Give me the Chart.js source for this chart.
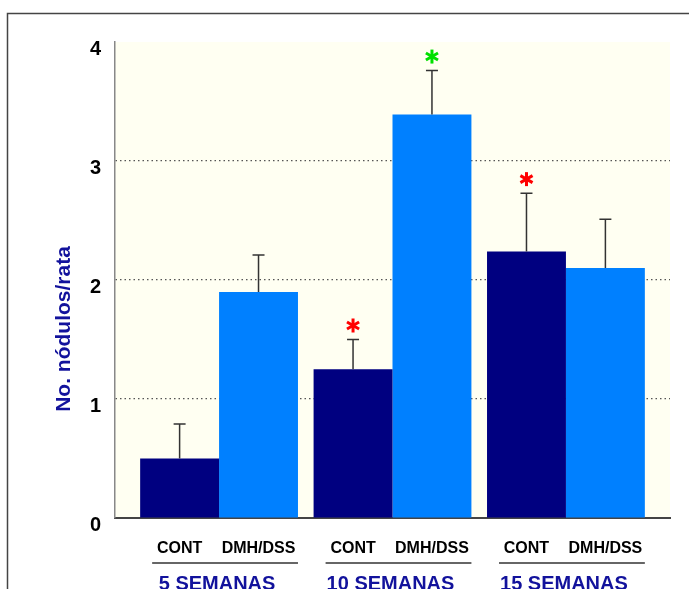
<!DOCTYPE html>
<html>
<head>
<meta charset="utf-8">
<script src="https://cdn.jsdelivr.net/npm/chart.js@4.4.0/dist/chart.umd.min.js"></script>
<style>
html, body { margin: 0; padding: 0; background: #fff; }
#wrap { position: relative; width: 689px; height: 589px; overflow: hidden; }
</style>
</head>
<body>
<div id="wrap"><canvas id="c" width="689" height="589"></canvas></div>
<script>
// data
const groups = ['5 SEMANAS', '10 SEMANAS', '15 SEMANAS']
const groupPos = [1, 2, 3]
const seriesNames = ['CONT', 'DMH/DSS']
const contValues = [0.50, 1.25, 2.24]
const contErr = [0.29, 0.25, 0.49]
const dmhValues = [1.90, 3.39, 2.10]
const dmhErr = [0.31, 0.37, 0.41]
const contSig = ['', '#ff0000', '#ff0000']
const dmhSig = ['', '#00e000', '']
const yTicks = [0, 1, 2, 3, 4]
const yTitle = 'No. nódulos/rata'

const FONT = '"Liberation Sans", Arial, sans-serif'
const BLUE_TXT = '#12129c'

function drawStar(ctx, x, y, color) {
  const r = 7
  ctx.save()
  ctx.strokeStyle = color
  ctx.lineWidth = 3
  for (let k = 0; k < 3; k++) {
    const a = Math.PI / 2 + k * Math.PI / 3
    ctx.beginPath()
    ctx.moveTo(x - r * Math.cos(a), y - r * Math.sin(a))
    ctx.lineTo(x + r * Math.cos(a), y + r * Math.sin(a))
    ctx.stroke()
  }
  ctx.restore()
}

const frame = {
  id: 'frame',
  beforeDraw(chart) {
    const { ctx, chartArea: a } = chart
    ctx.save()
    ctx.fillStyle = '#fffff2'
    ctx.fillRect(a.left, a.top, a.right - a.left, a.bottom - a.top)
    ctx.strokeStyle = '#444'
    ctx.lineWidth = 1.5
    ctx.beginPath()
    ctx.moveTo(7.5, 700); ctx.lineTo(7.5, 13.5); ctx.lineTo(700, 13.5)
    ctx.stroke()
    ctx.restore()
  }
}

const errorBars = {
  id: 'errorBars',
  afterDatasetsDraw(chart) {
    const { ctx } = chart
    const y = chart.scales.y
    chart.data.datasets.forEach((ds, di) => {
      const meta = chart.getDatasetMeta(di)
      meta.data.forEach((bar, i) => {
        const top = y.getPixelForValue(ds.data[i].y + ds.err[i])
        ctx.save()
        ctx.strokeStyle = '#333'
        ctx.lineWidth = 1.5
        ctx.beginPath()
        ctx.moveTo(bar.x, bar.y); ctx.lineTo(bar.x, top)
        ctx.moveTo(bar.x - 6, top); ctx.lineTo(bar.x + 6, top)
        ctx.stroke()
        ctx.restore()
        if (ds.sig[i]) drawStar(ctx, bar.x, top - 14, ds.sig[i])
      })
    })
  }
}

const groupLabels = {
  id: 'groupLabels',
  afterDraw(chart) {
    const { ctx } = chart
    const x = chart.scales.x
    const m0 = chart.getDatasetMeta(0).data
    const m1 = chart.getDatasetMeta(1).data
    ctx.save()
    groups.forEach((g, i) => {
      const b0 = m0[i], b1 = m1[i]
      ctx.fillStyle = '#000'
      ctx.font = 'bold 16px ' + FONT
      ctx.textAlign = 'center'
      ctx.textBaseline = 'middle'
      ctx.fillText(seriesNames[0], b0.x, 549)
      ctx.fillText(seriesNames[1], b1.x, 549)
      ctx.strokeStyle = '#666'
      ctx.lineWidth = 2
      ctx.beginPath()
      ctx.moveTo(b0.x - b0.width / 2 + 12, 563)
      ctx.lineTo(b1.x + b1.width / 2, 563)
      ctx.stroke()
      ctx.fillStyle = BLUE_TXT
      ctx.font = 'bold 20px ' + FONT
      ctx.textBaseline = 'alphabetic'
      ctx.fillText(g, x.getPixelForValue(groupPos[i]) - 2, 590)
    })
    // y axis title
    ctx.translate(64, 329)
    ctx.rotate(-Math.PI / 2)
    ctx.fillStyle = BLUE_TXT
    ctx.font = 'bold 21px ' + FONT
    ctx.textAlign = 'center'
    ctx.textBaseline = 'middle'
    ctx.fillText(yTitle, 0, 0)
    ctx.restore()
  }
}

new Chart(document.getElementById('c'), {
  type: 'bar',
  data: {
    datasets: [
      { label: seriesNames[0], data: groupPos.map((p, i) => ({ x: p, y: contValues[i] })), err: contErr, sig: contSig, backgroundColor: '#000080' },
      { label: seriesNames[1], data: groupPos.map((p, i) => ({ x: p, y: dmhValues[i] })), err: dmhErr, sig: dmhSig, backgroundColor: '#0080ff' },
    ],
  },
  options: {
    responsive: false,
    animation: false,
    categoryPercentage: 0.91,
    barPercentage: 1,
    layout: { padding: { left: 0, top: 42, right: 19, bottom: 0 } },
    plugins: { legend: { display: false }, tooltip: { enabled: false } },
    scales: {
      x: {
        type: 'linear', min: 0.4, max: 3.6, offset: false,
        afterBuildTicks(s) { s.ticks = groupPos.map(v => ({ value: v })) },
        ticks: { display: false },
        grid: { display: false, offset: false },
        border: { color: '#444', width: 2 },
        afterFit(s) { s.height = 589 - 518 },
      },
      y: {
        min: 0, max: 4,
        afterBuildTicks(s) { s.ticks = yTicks.map(v => ({ value: v })) },
        ticks: { color: '#000', font: { family: FONT, size: 20, weight: 'bold' }, padding: 14, labelOffset: 7 },
        grid: {
          color: c => (c.tick.value === 0 || c.tick.value === 4) ? 'rgba(0,0,0,0)' : '#555',
          lineWidth: 1.2, drawTicks: false,
        },
        border: { color: '#888', width: 1.5, dash: [1.5, 3] },
        afterFit(s) { s.width = 115 },
      },
    },
  },
  plugins: [frame, errorBars, groupLabels],
})
</script>
</body>
</html>
